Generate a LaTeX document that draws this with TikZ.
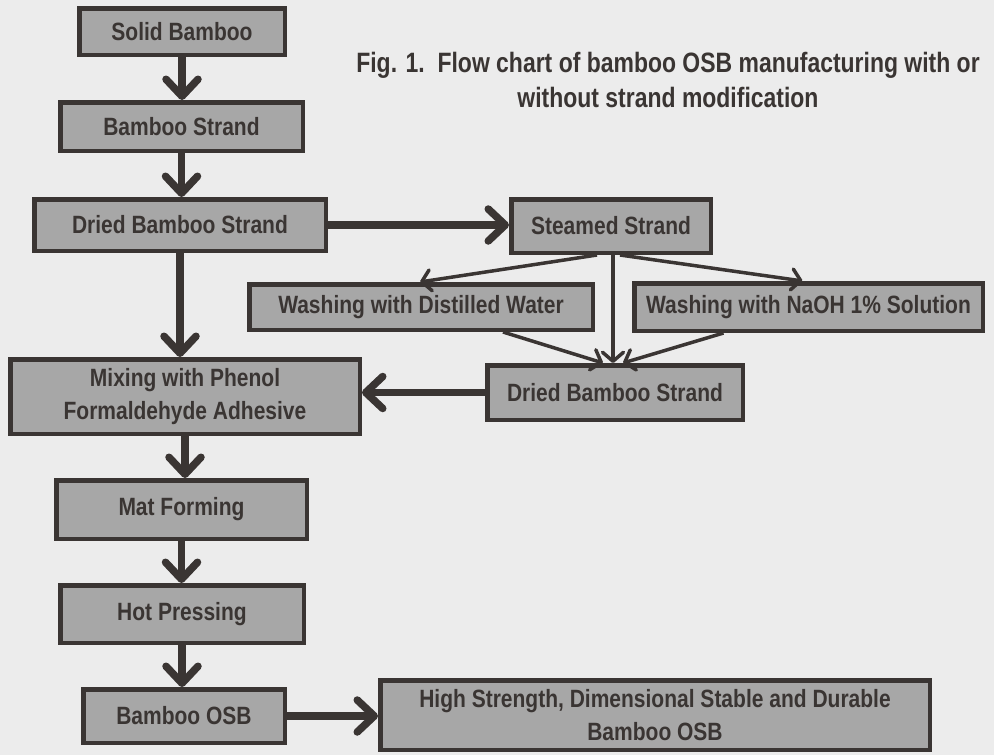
\documentclass[tikz,border=0pt]{standalone}
\usepackage{fontspec}
\newfontfamily\boxfont{Liberation Sans}[FakeStretch=0.84]
\newfontfamily\titlefont{Liberation Sans}[FakeStretch=0.82]
\usetikzlibrary{arrows.meta}
\definecolor{ink}{HTML}{3A3533}
\definecolor{boxgrey}{HTML}{A7A7A7}
\definecolor{paper}{HTML}{ECECEC}
\tikzset{
  stage/.style={draw=ink, fill=boxgrey, line width=4.5pt, inner sep=0pt, align=center,
    text=ink, font=\boxfont\bfseries\fontsize{25}{33}\selectfont},
  flow/.style={draw=ink, line width=7.5pt, -{Straight Barb[length=17pt,width=32pt,round]}},
  branch/.style={draw=ink, line width=3.5pt, -{Straight Barb[length=9pt,width=21pt,round]}},
}
\begin{document}
\begin{tikzpicture}[x=1pt,y=-1pt]
\fill[paper] (0,0) rectangle (994,755);
% title
\node[text=ink, align=center, font=\titlefont\bfseries\fontsize{28}{35}\selectfont] (title) at (668,80)
  {Fig. 1.\ \ Flow chart of bamboo OSB manufacturing with or\\without strand modification};
% main line
\node[stage, minimum width=205.5pt, minimum height=46.5pt] (solid) at (182,31.5) {Solid Bamboo};
\node[stage, minimum width=242.5pt, minimum height=48.5pt] (strand) at (181.5,126.5) {Bamboo Strand};
\node[stage, minimum width=291.5pt, minimum height=51.5pt] (dried) at (180,225) {Dried Bamboo Strand};
\node[stage, minimum width=349.5pt, minimum height=74.5pt] (mixing) at (185,396.5) {Mixing with Phenol\\Formaldehyde Adhesive};
\node[stage, minimum width=250.5pt, minimum height=58.5pt] (mat) at (181.5,509.5) {Mat Forming};
\node[stage, minimum width=243.5pt, minimum height=57.5pt] (hot) at (182,614) {Hot Pressing};
\node[stage, minimum width=201.5pt, minimum height=53.5pt] (osb) at (184,716) {Bamboo OSB};
\node[stage, minimum width=549.5pt, minimum height=69.5pt] (final) at (655,715) {High Strength, Dimensional Stable and Durable\\Bamboo OSB};
% modification branch
\node[stage, minimum width=199.5pt, minimum height=53.5pt] (steamed) at (611,226) {Steamed Strand};
\node[stage, minimum width=343.5pt, minimum height=45.5pt] (water) at (421,307) {Washing with Distilled Water};
\node[stage, minimum width=348.5pt, minimum height=47.5pt] (naoh) at (808.5,307) {Washing with NaOH 1\% Solution};
\node[stage, minimum width=255.5pt, minimum height=54.5pt] (dried2) at (615,392.5) {Dried Bamboo Strand};
% arrows
\draw[flow] (solid.south) -- (solid.south |- strand.north);
\draw[flow] (strand.south) -- (strand.south |- dried.north);
\draw[flow] (dried.south) -- (dried.south |- mixing.north);
\draw[flow] (mixing.south) -- (mixing.south |- mat.north);
\draw[flow] (mat.south) -- (mat.south |- hot.north);
\draw[flow] (hot.south) -- (hot.south |- osb.north);
\draw[flow] (dried.east) -- (dried.east -| steamed.west);
\draw[flow] (dried2.west) -- (dried2.west -| mixing.east);
\draw[flow] (osb.east) -- (osb.east -| final.west);
\draw[branch] ([xshift=-14pt]steamed.south) -- ([xshift=-1pt]water.north);
\draw[branch] ([xshift=9pt]steamed.south) -- ([xshift=-6pt]naoh.north);
\draw[branch] ([xshift=2pt]steamed.south) -- ([xshift=-2pt]dried2.north);
\draw[branch] ([xshift=82pt]water.south) -- ([xshift=-12pt]dried2.north);
\draw[branch] ([xshift=-85pt]naoh.south) -- ([xshift=8pt]dried2.north);
\end{tikzpicture}
\end{document}
